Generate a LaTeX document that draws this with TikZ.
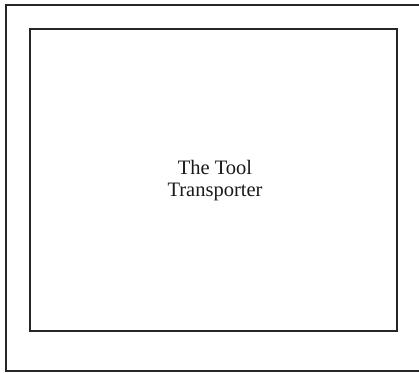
\documentclass[tikz,border=0pt]{standalone}
\usepackage{fontspec}
\setmainfont{Liberation Serif}
\begin{document}
\begin{tikzpicture}[x=1pt,y=-1pt,
  frame/.style={draw=black!85,line width=1.3pt},
  label/.style={align=center,font=\fontsize{20.5}{22}\selectfont,text=black!90}]
\useasboundingbox (0,0) rectangle (419,372);
\coordinate (o1) at (6,371);
\coordinate (o2) at (6,5);
\coordinate (o3) at (421,5);
\coordinate (o4) at (421,371);
\draw[frame] (o4) -- (o1) -- (o2) -- (o3);
\node[frame,minimum width=367pt,minimum height=302pt,inner sep=0pt] (box) at (213.5,180) {};
\node[label] (txt) at (215,180.5) {The Tool\\Transporter};
\end{tikzpicture}
\end{document}
